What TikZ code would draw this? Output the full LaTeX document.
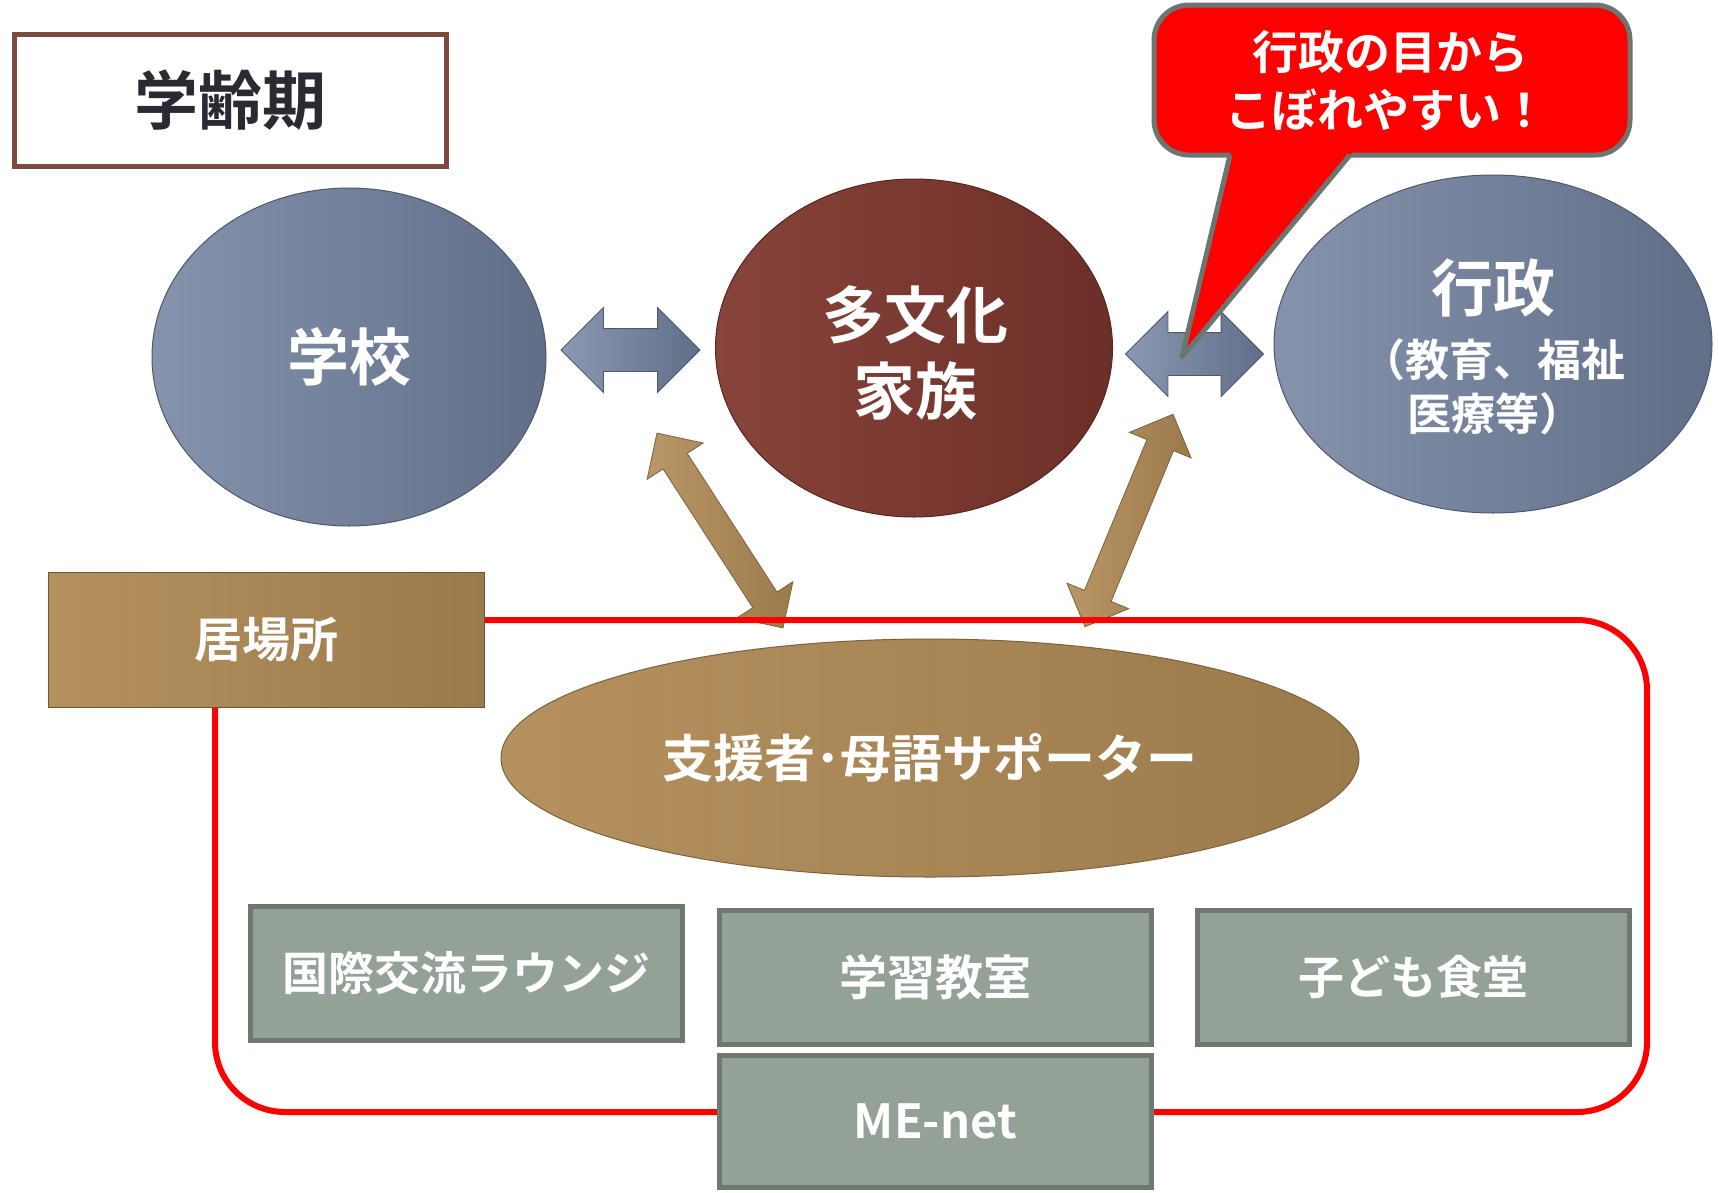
\documentclass[tikz,border=0pt]{standalone}
\usepackage{fontspec}
\newfontfamily\jp{Noto Sans CJK JP}[BoldFont={* Bold}]
\usetikzlibrary{shapes.geometric,shapes.arrows,calc}
\definecolor{blueL}{HTML}{8593AD}
\definecolor{blueR}{HTML}{616E88}
\definecolor{brownL}{HTML}{88443A}
\definecolor{brownR}{HTML}{6C2F28}
\definecolor{tanL}{HTML}{B5915F}
\definecolor{tanR}{HTML}{9B7A4B}
\definecolor{grayfill}{HTML}{93A197}
\definecolor{grayedge}{HTML}{6E786F}
\definecolor{titleedge}{HTML}{7C4A3F}
\definecolor{titletext}{HTML}{2A2A33}
\definecolor{calloutedge}{HTML}{6C7670}
\newcommand\fs[1]{\jp\bfseries\fontsize{#1}{#1}\selectfont}
\tikzset{
  base/.style={inner sep=0pt, outer sep=0pt, text=white, align=center},
  blueell/.style={base, ellipse, left color=blueL, right color=blueR, draw=blueR!80!black, line width=1pt},
  brownell/.style={base, ellipse, left color=brownL, right color=brownR, draw=brownR!80!black, line width=1pt},
  tanell/.style={base, ellipse, left color=tanL, right color=tanR, draw=tanR!80!black, line width=1pt},
  tanbox/.style={base, rectangle, left color=tanL, right color=tanR, draw=tanR!70!black, line width=1pt},
  graybox/.style={base, rectangle, fill=grayfill, draw=grayedge, line width=5pt},
  bluearrow/.style={base, double arrow, inner xsep=0pt, inner ysep=21pt, double arrow head extend=21pt, double arrow tip angle=90,
     left color=blueL!95!white, right color=blueR, draw=blueR!80!black, line width=0.8pt},
  tanarrow/.style={base, double arrow, inner xsep=0pt, inner ysep=14pt, double arrow head extend=19pt, double arrow tip angle=90,
     left color=tanL!95!white, right color=tanR, draw=tanR!80!black, line width=0.8pt},
  redframe/.style={base, rectangle, draw=red, line width=6pt, rounded corners=70pt},
  callout/.style={base, rectangle, fill=red, draw=calloutedge, line width=5pt, rounded corners=35pt},
  calloutside/.style={draw=calloutedge, line width=5pt, line join=round},
}
\begin{document}
\begin{tikzpicture}[x=1pt,y=-1pt]
\useasboundingbox (0,0) rectangle (1719,1192);
\fill[white] (0,0) rectangle (1719,1192);

% title
\node[base, draw=titleedge, line width=5pt, minimum width=432pt, minimum height=132pt,
      text=titletext, font=\fs{64}] (title) at (230,100) {学齢期};

% top ellipses
\node[blueell, minimum width=394pt, minimum height=338pt, font=\fs{62}] (school) at (349,357) {学校};
\node[brownell, minimum width=397pt, minimum height=338pt] (family) at (914,348) {};
\node[base, font=\fs{62}] (familyA) at (915,315) {多文化};
\node[base, font=\fs{62}] (familyB) at (915,391) {家族};
\node[blueell, minimum width=438pt, minimum height=338pt] (gov) at (1493,344) {};
\node[base, font=\fs{62}] (govA) at (1493,288) {行政};
\node[base, font=\fs{44}] (govB) at (1493,360) {（教育、福祉};
\node[base, font=\fs{44}] (govC) at (1495,414) {医療等）};

% blue double arrows
\node[bluearrow, minimum height=139pt] (arrL) at (630.5,350) {};
\node[bluearrow, minimum height=138pt] (arrR) at (1194.5,354) {};

% tan diagonal double arrows
\node[tanarrow, minimum height=232pt, rotate=-57.1] (tanL) at (720,530.5) {};
\node[tanarrow, minimum height=230pt, rotate=67.5] (tanR) at (1129,520.5) {};

% red frame
\node[redframe, minimum width=1432pt, minimum height=492pt] (frame) at (931,866) {};

% ibasho
\node[tanbox, minimum width=436pt, minimum height=135pt, font=\fs{48}] (ibasho) at (266,639.5) {居場所};

% supporters
\node[tanell, minimum width=858pt, minimum height=238pt, font=\fs{51}] (support) at (930,758) {支援者･母語サポーター};

% gray boxes
\node[graybox, minimum width=432pt, minimum height=134pt, font=\fs{46}] (lounge) at (466.5,973.5) {国際交流ラウンジ};
\node[graybox, minimum width=432pt, minimum height=134pt, font=\fs{48}] (study) at (935.5,977.5) {学習教室};
\node[graybox, minimum width=432pt, minimum height=134pt, font=\fs{46}] (kids) at (1413.5,977.5) {子ども食堂};
\node[graybox, minimum width=432pt, minimum height=132pt, font=\fs{47}] (menet) at (935.5,1121) {ME-net};

% callout
\node[callout, minimum width=476pt, minimum height=150pt] (call) at (1392,80) {};
\node[base, font=\fs{46}] (callA) at (1390,52) {行政の目から};
\node[base, font=\fs{46}] (callB) at (1386,110) {こぼれやすい！};
\coordinate (tip) at (1182,357);
\coordinate (pl) at (1230,155);
\coordinate (pr) at (1350,155);
\fill[red] ($(pl)+(1.9,-8)$) -- (tip) -- ($(pr)+(6.7,-8)$) -- cycle;
\draw[calloutside] (pl) -- (tip) -- (pr);
\end{tikzpicture}
\end{document}
